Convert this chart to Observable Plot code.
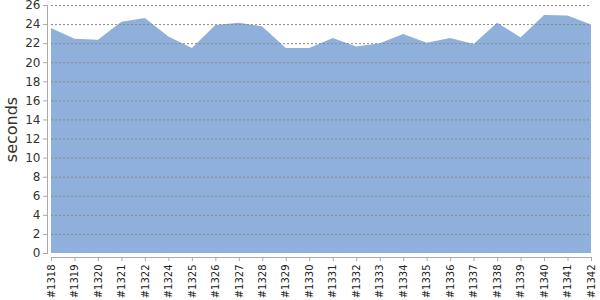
<!DOCTYPE html>
<html>
<head>
<meta charset="utf-8">
<script src="https://cdn.jsdelivr.net/npm/d3@7"></script>
<script src="https://cdn.jsdelivr.net/npm/@observablehq/plot@0.6"></script>
<style>
  html, body { margin: 0; padding: 0; background: #fff; }
  #chart svg { display: block; }
</style>
</head>
<body>
<div id="chart"></div>
<script>
const builds = ["#1318","#1319","#1320","#1321","#1322","#1324","#1325","#1326","#1327","#1328","#1329","#1330","#1331","#1332","#1333","#1334","#1335","#1336","#1337","#1338","#1339","#1340","#1341","#1342"];
const seconds = [23.6,22.45,22.35,24.25,24.65,22.7,21.5,23.9,24.15,23.75,21.5,21.5,22.55,21.65,22.0,22.95,22.05,22.55,21.9,24.15,22.6,24.95,24.9,23.95];
const yTicks = d3.range(0, 27, 2);

const data = builds.map((b, i) => ({build: b, value: seconds[i]}));

const chart = Plot.plot({
  width: 600,
  height: 300,
  marginLeft: 51,
  marginRight: 9,
  marginTop: 5,
  marginBottom: 47,
  style: {fontFamily: "DejaVu Sans", color: "#333", background: "#fff", overflow: "visible"},
  x: {type: "point", domain: builds, padding: 0, round: false},
  y: {domain: [0, 26]},
  marks: [
    Plot.areaY(data, {x: "build", y: "value", fill: "#8eb0da", curve: "linear"}),
    Plot.ruleY(yTicks.filter(d => d > 0), {stroke: "#8a8a8a", strokeDasharray: "2,2", strokeWidth: 1}),
    Plot.frame({anchor: "left", dx: -4, stroke: "#aaa"}),
    Plot.frame({anchor: "bottom", dy: 4, stroke: "#aaa"}),
    Plot.axisY({ticks: yTicks, tickSize: 4, dx: -4, tickPadding: 3, fontSize: 12, stroke: "#aaa", fill: "#333",
      label: "seconds", labelAnchor: "center", labelArrow: "none", labelOffset: 46}),
    Plot.axisX({tickRotate: -90, tickSize: 4, dy: 4, tickPadding: 3, fontSize: 10, stroke: "#aaa", fill: "#222", label: null})
  ]
});

chart.querySelectorAll("text").forEach(t => {
  if (t.textContent === "seconds") { t.setAttribute("font-size", 16); t.setAttribute("fill", "#333"); }
});
document.getElementById("chart").append(chart);
</script>
</body>
</html>
